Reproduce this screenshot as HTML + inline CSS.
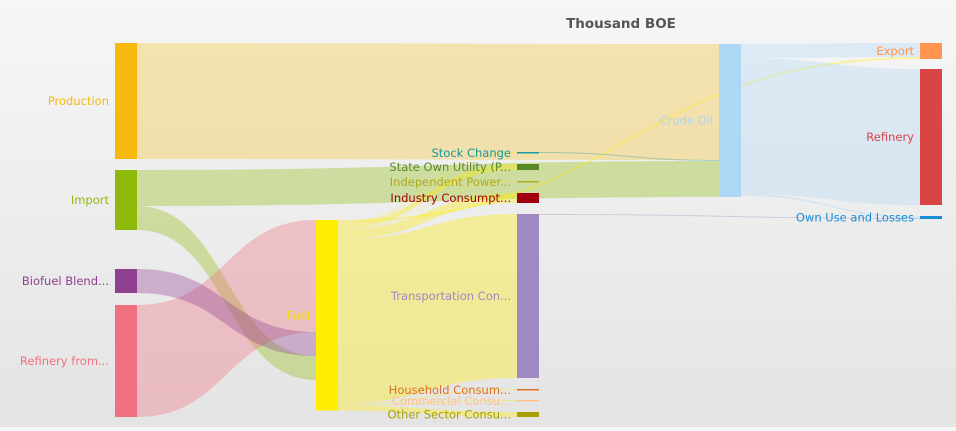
<!DOCTYPE html>
<html><head><meta charset="utf-8">
<style>
html,body{margin:0;padding:0;}
body{width:956px;height:427px;overflow:hidden;background:linear-gradient(#f6f6f6,#e4e4e4);font-family:"DejaVu Sans","Liberation Sans",sans-serif;}
svg text{font-family:"DejaVu Sans","Liberation Sans",sans-serif;font-size:11.5px;}
</style></head>
<body>
<svg id="chart" width="956" height="427" xmlns="http://www.w3.org/2000/svg">
<text x="621" y="28" text-anchor="middle" font-weight="bold" fill="#555" style="font-size:13.5px">Thousand BOE</text>
<g id="links"></g>
<g id="nodes"></g>
</svg>
<script>
const nodeNames=["Production","Import","Biofuel Blend...","Refinery from...","Fuel","Stock Change","State Own Utility (P...","Independent Power...","Industry Consumpt...","Transportation Con...","Household Consum...","Commercial Consu...","Other Sector Consu...","Crude Oil","Export","Refinery","Own Use and Losses"];
const nodeColors=["#f5b90f","#8fba0c","#8f3f8f","#f07080","#ffee00","#1a9a9a","#5a8a2a","#b0b020","#a00010","#a088c0","#e07020","#ffc090","#a8a000","#aed6f5","#ff9450","#d94444","#1a8fd8"];
const linkSource=[0,1,1,3,2,4,4,4,4,4,4,4,4,4,5,13,13,13,9];
const linkTarget=[13,13,4,4,4,14,5,6,7,8,9,10,11,12,13,14,15,16,16];
const linkValue=[116,36,24,112,24,2,1,6,0.5,10,164,1,1,5,1,14,136,2,1];
// layout (not data)
const SCALE=1;
const colX=[115,316,517,719,920];
const nodeCol=[0,0,0,0,1,2,2,2,2,2,2,2,2,3,4,4,4];
const nodeTop=[43,170,269,305,220,152,164,181,193,214,389,400,412,44,43,69,216];
const W=22;
const NS="http://www.w3.org/2000/svg";
const n=nodeNames.length;
const inSum=new Array(n).fill(0),outSum=new Array(n).fill(0);
linkValue.forEach((v,i)=>{outSum[linkSource[i]]+=v;inSum[linkTarget[i]]+=v;});
const nh=nodeNames.map((_,i)=>Math.max(inSum[i],outSum[i],0.5)*SCALE);
if(nh[4]<190)nh[4]=190;if(nh[13]<152)nh[13]=152;
const outOff=new Array(n).fill(0),inOff=new Array(n).fill(0);
const idx=linkValue.map((_,i)=>i);
const srcY={},tgtY={};
idx.slice().sort((a,b)=>nodeTop[linkTarget[a]]-nodeTop[linkTarget[b]]).forEach(i=>{const s=linkSource[i];srcY[i]=nodeTop[s]+outOff[s];outOff[s]+=linkValue[i]*SCALE;});
const inKey=i=>linkTarget[i]===4?-nodeTop[linkSource[i]]:nodeTop[linkSource[i]];
idx.slice().sort((a,b)=>inKey(a)-inKey(b)).forEach(i=>{const t=linkTarget[i];tgtY[i]=nodeTop[t]+inOff[t];inOff[t]+=linkValue[i]*SCALE;});
const lg=document.getElementById('links');
idx.forEach(i=>{
 const s=linkSource[i],t=linkTarget[i],h=Math.max(linkValue[i]*SCALE,0.8);
 const x0=colX[nodeCol[s]]+W,x1=colX[nodeCol[t]],xm=(x0+x1)/2;
 const y0=srcY[i],y1=tgtY[i];
 const p=document.createElementNS(NS,'path');
 p.setAttribute('d',`M${x0},${y0}C${xm},${y0} ${xm},${y1} ${x1},${y1}L${x1},${y1+h}C${xm},${y1+h} ${xm},${y0+h} ${x0},${y0+h}Z`);
 p.setAttribute('fill',nodeColors[s]);
 p.setAttribute('fill-opacity',s===0?'0.3':'0.35');
 
 
 lg.appendChild(p);
});
const ng=document.getElementById('nodes');
nodeNames.forEach((name,i)=>{
 const x=colX[nodeCol[i]],y=nodeTop[i],h=Math.max(nh[i],1.5);
 const r=document.createElementNS(NS,'rect');
 r.setAttribute('x',x);r.setAttribute('y',y);r.setAttribute('width',W);r.setAttribute('height',h);
 r.setAttribute('fill',nodeColors[i]);
 
 
 ng.appendChild(r);
 const tx=document.createElementNS(NS,'text');
 tx.setAttribute('x',x-6);tx.setAttribute('y',y+h/2+4);
 tx.setAttribute('text-anchor','end');
 tx.setAttribute('fill',nodeColors[i]==='#ffee00'?'#f5e000':nodeColors[i]);
 if(i===7)tx.setAttribute('fill','#b0a820');
 tx.textContent=name;
 
 
 ng.appendChild(tx);
});
</script>
</body></html>
